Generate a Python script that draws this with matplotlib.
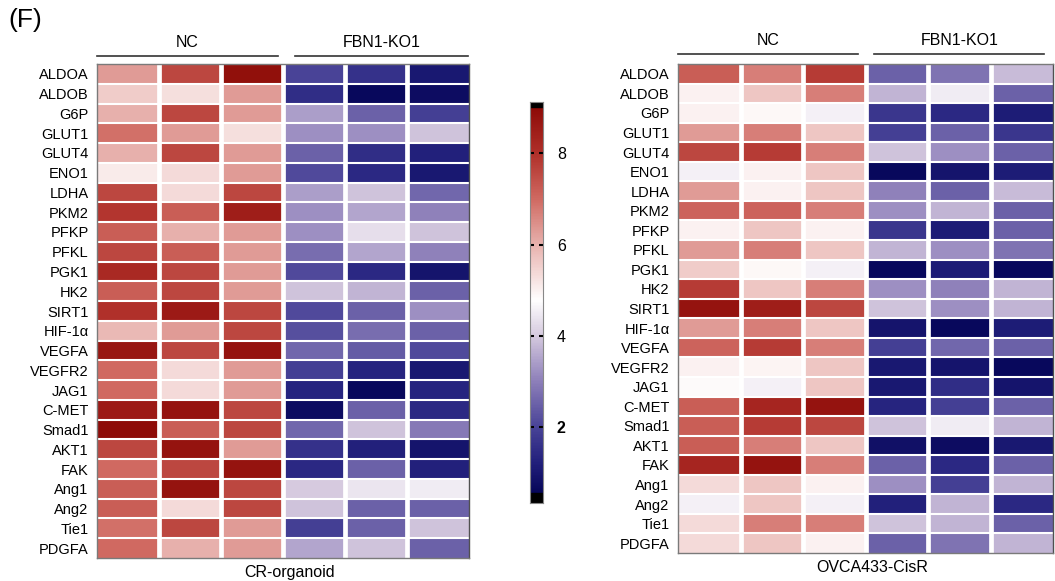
import numpy as np
import matplotlib
matplotlib.use("Agg")
import matplotlib.pyplot as plt
from matplotlib.colors import LinearSegmentedColormap, Normalize

plt.rcParams['font.family'] = ['Liberation Sans', 'DejaVu Sans']

genes = ["ALDOA", "ALDOB", "G6P", "GLUT1", "GLUT4", "ENO1", "LDHA", "PKM2", "PFKP",
         "PFKL", "PGK1", "HK2", "SIRT1", "HIF-1α", "VEGFA", "VEGFR2", "JAG1", "C-MET",
         "Smad1", "AKT1", "FAK", "Ang1", "Ang2", "Tie1", "PDGFA"]
groups = ["NC", "FBN1-KO1"]
panel_titles = ["CR-organoid", "OVCA433-CisR"]
cbar_ticks = [2, 4, 6, 8]

# columns: NC1, NC2, NC3, KO1, KO2, KO3
cr_organoid = [
    [6.3, 7.6, 8.9, 2.0, 1.6, 1.0],
    [5.6, 5.3, 6.3, 1.5, 0.6, 0.7],
    [6.0, 7.6, 6.3, 3.4, 2.5, 1.9],
    [6.9, 6.3, 5.3, 3.2, 3.2, 3.9],
    [6.0, 7.6, 6.3, 2.5, 1.5, 1.2],
    [5.1, 5.35, 6.3, 2.1, 1.4, 1.0],
    [7.6, 5.35, 7.6, 3.4, 3.9, 2.6],
    [7.9, 7.2, 8.5, 3.2, 3.5, 3.0],
    [7.2, 6.0, 6.3, 3.2, 4.3, 3.9],
    [7.6, 7.2, 6.3, 2.7, 3.5, 3.0],
    [8.2, 7.6, 6.3, 2.1, 1.4, 0.9],
    [7.2, 7.6, 6.3, 3.9, 3.7, 2.5],
    [8.0, 8.6, 7.6, 2.1, 2.5, 3.2],
    [5.9, 6.3, 7.6, 2.2, 2.7, 2.5],
    [8.7, 7.6, 8.8, 2.6, 2.4, 2.1],
    [7.0, 5.35, 6.3, 1.9, 1.3, 1.0],
    [7.0, 5.35, 6.3, 1.3, 0.6, 1.3],
    [8.6, 8.8, 7.6, 0.7, 2.5, 1.4],
    [9.0, 7.2, 7.6, 2.6, 3.9, 2.9],
    [7.6, 8.8, 6.3, 1.6, 1.2, 0.9],
    [7.0, 7.6, 8.8, 1.4, 2.5, 1.2],
    [7.2, 8.8, 7.6, 4.0, 4.4, 4.5],
    [7.2, 5.35, 7.6, 3.9, 2.5, 2.5],
    [6.9, 7.6, 6.3, 1.9, 2.5, 3.9],
    [7.0, 6.0, 6.3, 3.5, 3.9, 2.5],
]

ovca433_cisr = [
    [7.2, 6.7, 7.8, 2.5, 2.8, 3.8],
    [5.0, 5.7, 6.7, 3.7, 4.5, 2.5],
    [5.0, 4.9, 4.55, 1.7, 1.4, 1.1],
    [6.3, 6.7, 5.7, 1.9, 2.5, 1.7],
    [7.6, 7.8, 6.7, 3.9, 3.2, 2.5],
    [4.55, 5.0, 5.7, 0.6, 0.9, 1.1],
    [6.3, 5.0, 5.7, 3.0, 2.5, 3.8],
    [7.1, 7.1, 6.7, 3.2, 3.7, 2.5],
    [5.0, 5.7, 5.0, 1.7, 1.1, 2.5],
    [6.3, 6.7, 5.7, 3.7, 3.2, 2.8],
    [5.6, 4.9, 4.55, 0.6, 1.1, 0.6],
    [7.8, 5.7, 6.7, 3.2, 3.0, 3.7],
    [8.8, 8.5, 7.6, 3.9, 3.2, 3.7],
    [6.3, 6.7, 5.7, 0.9, 0.6, 1.1],
    [7.1, 7.8, 6.7, 1.9, 2.6, 2.5],
    [5.0, 4.95, 5.7, 1.0, 0.9, 0.6],
    [4.85, 4.55, 5.7, 1.0, 1.5, 0.9],
    [7.2, 8.3, 8.8, 1.3, 1.9, 2.5],
    [7.2, 7.8, 7.6, 3.9, 4.5, 3.7],
    [7.2, 6.7, 5.7, 0.8, 0.7, 1.0],
    [8.3, 8.8, 6.7, 2.5, 1.4, 2.5],
    [5.35, 5.7, 5.0, 3.2, 1.9, 3.7],
    [4.55, 5.7, 4.55, 1.2, 3.7, 1.4],
    [5.35, 6.7, 6.7, 3.9, 3.7, 2.5],
    [5.35, 5.7, 5.0, 2.5, 2.8, 3.7],
]

VMIN, VMAX = 0.56, 9.0
anchors = [(0.56, '#07075a'), (1.2, '#22207c'), (2.0, '#4a4498'), (3.0, '#8e80ba'),
           (4.0, '#d6cadf'), (4.78, '#ffffff'), (6.0, '#e8b2ae'), (7.0, '#d06a62'),
           (8.0, '#b0302a'), (9.0, '#8e0c08')]
cmap = LinearSegmentedColormap.from_list(
    'bwr_custom', [((v - VMIN) / (VMAX - VMIN), c) for v, c in anchors])
norm = Normalize(VMIN, VMAX)

W, H = 1055, 581
fig = plt.figure(figsize=(W / 100, H / 100), dpi=100)

def fr(x0, y0, x1, y1):
    return [x0 / W, 1 - y1 / H, (x1 - x0) / W, (y1 - y0) / H]

panels = [
    dict(data=cr_organoid, rect=fr(97, 64, 469, 558), nc=(0.0, 2.92), ko=(3.19, 5.98),
         line_y=56, title=panel_titles[0]),
    dict(data=ovca433_cisr, rect=fr(678, 64, 1053, 553), nc=(0.0, 2.88), ko=(3.14, 5.86),
         line_y=54, title=panel_titles[1]),
]

for p in panels:
    ax = fig.add_axes(p['rect'])
    arr = np.array(p['data'])
    nr, ncol = arr.shape
    ax.pcolormesh(np.arange(ncol + 1), np.arange(nr + 1), arr, cmap=cmap, norm=norm,
                  edgecolors='none')
    ax.set_xlim(0, ncol)
    ax.set_ylim(nr, 0)
    for c in range(1, ncol):
        ax.axvline(c, color='white', lw=3.4)
    for r in range(1, nr):
        ax.axhline(r, color='white', lw=1.5)
    ax.set_yticks(np.arange(nr) + 0.5)
    ax.set_yticklabels(genes, fontsize=10.5)
    ax.set_xticks([])
    ax.tick_params(axis='y', length=0, pad=6)
    for s in ax.spines.values():
        s.set_color('#7a7a7a')
        s.set_linewidth(1.0)
    ax.spines['right'].set_color('#505050')
    # group headers
    ax_h = p['rect'][3] * H
    top_px = H * (1 - (p['rect'][1] + p['rect'][3]))
    dy = (top_px - p['line_y']) / ax_h * nr
    yl = -dy
    for (x0, x1), g in zip([p['nc'], p['ko']], groups):
        ax.plot([x0, x1], [yl, yl], color='#333333', lw=1.2, clip_on=False)
        ax.text((x0 + x1) / 2, yl - 0.3, g, ha='center', va='bottom', fontsize=11.5)
    ax.text(ncol / 2 + 0.1, nr + 0.35, p['title'], ha='center', va='top', fontsize=11.5)

# colorbar
cax = fig.add_axes(fr(530, 102, 543, 503))
cap_top = 5.5 / 45.8
cap_bot = 10 / 45.8
grad = np.linspace(VMIN, VMAX, 400).reshape(-1, 1)
cax.imshow(grad, aspect='auto', cmap=cmap, norm=norm, origin='lower',
           extent=[0, 1, VMIN, VMAX])
cax.axhspan(VMAX, VMAX + cap_top, color='black')
cax.axhspan(VMIN - cap_bot, VMIN, color='black')
cax.set_xlim(0, 1)
cax.set_ylim(VMIN - cap_bot, VMAX + cap_top)
cax.set_xticks([])
cax.set_yticks(cbar_ticks)
cax.set_yticklabels([str(t) for t in cbar_ticks], fontsize=11.5)
cax.tick_params(axis='y', direction='in', left=True, right=True, labelleft=False,
                labelright=True, length=3, width=1.5, pad=10)
for t, v in zip(cax.yaxis.get_major_ticks(), cbar_ticks):
    if v == 2:
        t.label2.set_fontweight('bold')
for s in cax.spines.values():
    s.set_color('#888888')
    s.set_linewidth(0.8)

fig.text(8 / W, 1 - 20 / H, "(F)", fontsize=19, ha='left', va='center')

fig.savefig("out.png", dpi=100)
